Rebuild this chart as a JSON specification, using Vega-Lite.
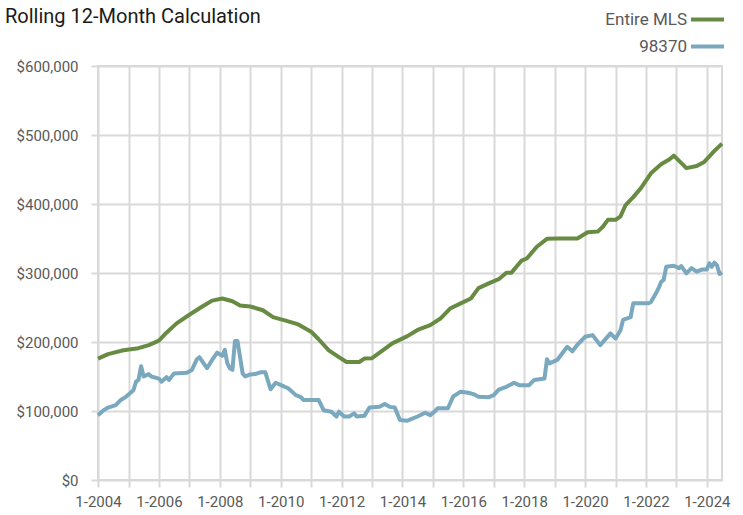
{
  "$schema": "https://vega.github.io/schema/vega-lite/v6.json",
  "autosize": "none",
  "width": 624,
  "height": 414,
  "padding": {"left": 98, "top": 66, "right": 21, "bottom": 35},
  "background": "white",
  "config": {
    "font": "Roboto, sans-serif",
    "view": {"stroke": "#d9d9d9", "strokeWidth": 2},
    "axis": {
      "grid": true,
      "gridColor": "#d9d9d9",
      "gridWidth": 2,
      "domain": false,
      "tickColor": "#d9d9d9",
      "tickWidth": 2,
      "tickSize": 7,
      "labelColor": "#595959",
      "labelFontSize": 15,
      "title": null
    }
  },
  "title": {
    "text": "Rolling 12-Month Calculation",
    "anchor": "start",
    "frame": "group",
    "dx": -93,
    "dy": 36,
    "fontSize": 20,
    "fontWeight": "normal",
    "color": "#1a1a1a",
    "offset": 10
  },
  "data": {
    "values": [
      {"date": "2004-01-01", "series": "Entire MLS", "value": 176000},
      {"date": "2004-05-01", "series": "Entire MLS", "value": 182500},
      {"date": "2004-11-01", "series": "Entire MLS", "value": 188000},
      {"date": "2005-05-01", "series": "Entire MLS", "value": 191000},
      {"date": "2005-09-01", "series": "Entire MLS", "value": 195500},
      {"date": "2006-01-01", "series": "Entire MLS", "value": 202000},
      {"date": "2006-04-01", "series": "Entire MLS", "value": 213500},
      {"date": "2006-08-01", "series": "Entire MLS", "value": 227000},
      {"date": "2007-01-01", "series": "Entire MLS", "value": 239500},
      {"date": "2007-06-01", "series": "Entire MLS", "value": 251000},
      {"date": "2007-10-01", "series": "Entire MLS", "value": 260000},
      {"date": "2008-02-01", "series": "Entire MLS", "value": 263000},
      {"date": "2008-06-01", "series": "Entire MLS", "value": 259000},
      {"date": "2008-09-01", "series": "Entire MLS", "value": 253000},
      {"date": "2009-01-01", "series": "Entire MLS", "value": 251500},
      {"date": "2009-06-01", "series": "Entire MLS", "value": 246000},
      {"date": "2009-10-01", "series": "Entire MLS", "value": 236000},
      {"date": "2010-03-01", "series": "Entire MLS", "value": 231000},
      {"date": "2010-08-01", "series": "Entire MLS", "value": 225500},
      {"date": "2011-01-01", "series": "Entire MLS", "value": 215000},
      {"date": "2011-04-01", "series": "Entire MLS", "value": 204000},
      {"date": "2011-08-01", "series": "Entire MLS", "value": 188000},
      {"date": "2011-12-01", "series": "Entire MLS", "value": 178000},
      {"date": "2012-03-01", "series": "Entire MLS", "value": 171000},
      {"date": "2012-08-01", "series": "Entire MLS", "value": 171000},
      {"date": "2012-10-01", "series": "Entire MLS", "value": 176000},
      {"date": "2013-01-01", "series": "Entire MLS", "value": 176500},
      {"date": "2013-05-01", "series": "Entire MLS", "value": 187000},
      {"date": "2013-09-01", "series": "Entire MLS", "value": 198000},
      {"date": "2014-03-01", "series": "Entire MLS", "value": 208500},
      {"date": "2014-07-01", "series": "Entire MLS", "value": 217500},
      {"date": "2014-12-01", "series": "Entire MLS", "value": 224500},
      {"date": "2015-04-01", "series": "Entire MLS", "value": 234000},
      {"date": "2015-08-01", "series": "Entire MLS", "value": 249000},
      {"date": "2015-12-01", "series": "Entire MLS", "value": 256000},
      {"date": "2016-04-01", "series": "Entire MLS", "value": 263000},
      {"date": "2016-07-01", "series": "Entire MLS", "value": 278000},
      {"date": "2016-11-01", "series": "Entire MLS", "value": 285000},
      {"date": "2017-03-01", "series": "Entire MLS", "value": 291000},
      {"date": "2017-06-01", "series": "Entire MLS", "value": 300500},
      {"date": "2017-08-01", "series": "Entire MLS", "value": 300500},
      {"date": "2017-12-01", "series": "Entire MLS", "value": 318000},
      {"date": "2018-02-01", "series": "Entire MLS", "value": 321000},
      {"date": "2018-06-01", "series": "Entire MLS", "value": 338000},
      {"date": "2018-10-01", "series": "Entire MLS", "value": 349500},
      {"date": "2019-02-01", "series": "Entire MLS", "value": 350000},
      {"date": "2019-10-01", "series": "Entire MLS", "value": 350000},
      {"date": "2020-02-01", "series": "Entire MLS", "value": 359000},
      {"date": "2020-06-01", "series": "Entire MLS", "value": 360000},
      {"date": "2020-08-01", "series": "Entire MLS", "value": 367000},
      {"date": "2020-10-01", "series": "Entire MLS", "value": 377000},
      {"date": "2021-01-01", "series": "Entire MLS", "value": 377000},
      {"date": "2021-03-01", "series": "Entire MLS", "value": 382000},
      {"date": "2021-05-01", "series": "Entire MLS", "value": 398500},
      {"date": "2021-08-01", "series": "Entire MLS", "value": 410000},
      {"date": "2021-11-01", "series": "Entire MLS", "value": 423000},
      {"date": "2022-03-01", "series": "Entire MLS", "value": 444500},
      {"date": "2022-07-01", "series": "Entire MLS", "value": 457500},
      {"date": "2022-10-01", "series": "Entire MLS", "value": 464000},
      {"date": "2022-12-01", "series": "Entire MLS", "value": 470000},
      {"date": "2023-05-01", "series": "Entire MLS", "value": 452000},
      {"date": "2023-09-01", "series": "Entire MLS", "value": 455000},
      {"date": "2023-12-01", "series": "Entire MLS", "value": 461000},
      {"date": "2024-04-01", "series": "Entire MLS", "value": 477000},
      {"date": "2024-07-01", "series": "Entire MLS", "value": 487500},

      {"date": "2004-01-01", "series": "98370", "value": 94000},
      {"date": "2004-03-01", "series": "98370", "value": 100500},
      {"date": "2004-05-01", "series": "98370", "value": 105000},
      {"date": "2004-08-01", "series": "98370", "value": 108500},
      {"date": "2004-10-01", "series": "98370", "value": 116000},
      {"date": "2004-12-01", "series": "98370", "value": 120500},
      {"date": "2005-03-01", "series": "98370", "value": 130000},
      {"date": "2005-04-01", "series": "98370", "value": 142500},
      {"date": "2005-05-01", "series": "98370", "value": 145000},
      {"date": "2005-06-01", "series": "98370", "value": 165000},
      {"date": "2005-07-01", "series": "98370", "value": 150000},
      {"date": "2005-09-01", "series": "98370", "value": 153500},
      {"date": "2005-10-01", "series": "98370", "value": 150000},
      {"date": "2006-01-01", "series": "98370", "value": 147000},
      {"date": "2006-02-01", "series": "98370", "value": 142500},
      {"date": "2006-04-01", "series": "98370", "value": 149000},
      {"date": "2006-05-01", "series": "98370", "value": 145000},
      {"date": "2006-07-01", "series": "98370", "value": 154500},
      {"date": "2006-12-01", "series": "98370", "value": 155500},
      {"date": "2007-02-01", "series": "98370", "value": 159500},
      {"date": "2007-04-01", "series": "98370", "value": 175000},
      {"date": "2007-05-01", "series": "98370", "value": 178000},
      {"date": "2007-08-01", "series": "98370", "value": 162000},
      {"date": "2007-10-01", "series": "98370", "value": 174000},
      {"date": "2007-12-01", "series": "98370", "value": 184500},
      {"date": "2008-02-01", "series": "98370", "value": 180000},
      {"date": "2008-03-01", "series": "98370", "value": 188500},
      {"date": "2008-04-01", "series": "98370", "value": 169000},
      {"date": "2008-05-01", "series": "98370", "value": 162000},
      {"date": "2008-06-01", "series": "98370", "value": 159500},
      {"date": "2008-07-01", "series": "98370", "value": 201500},
      {"date": "2008-08-01", "series": "98370", "value": 201500},
      {"date": "2008-10-01", "series": "98370", "value": 154500},
      {"date": "2008-11-01", "series": "98370", "value": 150000},
      {"date": "2009-01-01", "series": "98370", "value": 153000},
      {"date": "2009-03-01", "series": "98370", "value": 153500},
      {"date": "2009-05-01", "series": "98370", "value": 156000},
      {"date": "2009-07-01", "series": "98370", "value": 156000},
      {"date": "2009-09-01", "series": "98370", "value": 131500},
      {"date": "2009-11-01", "series": "98370", "value": 141000},
      {"date": "2010-02-01", "series": "98370", "value": 136000},
      {"date": "2010-04-01", "series": "98370", "value": 133000},
      {"date": "2010-07-01", "series": "98370", "value": 123000},
      {"date": "2010-09-01", "series": "98370", "value": 120000},
      {"date": "2010-10-01", "series": "98370", "value": 116000},
      {"date": "2011-04-01", "series": "98370", "value": 116000},
      {"date": "2011-06-01", "series": "98370", "value": 101000},
      {"date": "2011-09-01", "series": "98370", "value": 99000},
      {"date": "2011-11-01", "series": "98370", "value": 92000},
      {"date": "2011-12-01", "series": "98370", "value": 99000},
      {"date": "2012-02-01", "series": "98370", "value": 92000},
      {"date": "2012-04-01", "series": "98370", "value": 92000},
      {"date": "2012-06-01", "series": "98370", "value": 96500},
      {"date": "2012-07-01", "series": "98370", "value": 92000},
      {"date": "2012-10-01", "series": "98370", "value": 93000},
      {"date": "2012-12-01", "series": "98370", "value": 105000},
      {"date": "2013-04-01", "series": "98370", "value": 106000},
      {"date": "2013-06-01", "series": "98370", "value": 110000},
      {"date": "2013-08-01", "series": "98370", "value": 106000},
      {"date": "2013-10-01", "series": "98370", "value": 105000},
      {"date": "2013-12-01", "series": "98370", "value": 87000},
      {"date": "2014-03-01", "series": "98370", "value": 86000},
      {"date": "2014-07-01", "series": "98370", "value": 92000},
      {"date": "2014-10-01", "series": "98370", "value": 97500},
      {"date": "2014-12-01", "series": "98370", "value": 94000},
      {"date": "2015-02-01", "series": "98370", "value": 100500},
      {"date": "2015-03-01", "series": "98370", "value": 104000},
      {"date": "2015-07-01", "series": "98370", "value": 104000},
      {"date": "2015-09-01", "series": "98370", "value": 121000},
      {"date": "2015-12-01", "series": "98370", "value": 128000},
      {"date": "2016-03-01", "series": "98370", "value": 126500},
      {"date": "2016-05-01", "series": "98370", "value": 124500},
      {"date": "2016-07-01", "series": "98370", "value": 120500},
      {"date": "2016-11-01", "series": "98370", "value": 120000},
      {"date": "2017-01-01", "series": "98370", "value": 123000},
      {"date": "2017-03-01", "series": "98370", "value": 131000},
      {"date": "2017-06-01", "series": "98370", "value": 135000},
      {"date": "2017-09-01", "series": "98370", "value": 141000},
      {"date": "2017-11-01", "series": "98370", "value": 137500},
      {"date": "2018-03-01", "series": "98370", "value": 137500},
      {"date": "2018-05-01", "series": "98370", "value": 145000},
      {"date": "2018-09-01", "series": "98370", "value": 147000},
      {"date": "2018-10-01", "series": "98370", "value": 175000},
      {"date": "2018-11-01", "series": "98370", "value": 169000},
      {"date": "2019-02-01", "series": "98370", "value": 174000},
      {"date": "2019-06-01", "series": "98370", "value": 193000},
      {"date": "2019-08-01", "series": "98370", "value": 186500},
      {"date": "2019-10-01", "series": "98370", "value": 196000},
      {"date": "2020-01-01", "series": "98370", "value": 207500},
      {"date": "2020-04-01", "series": "98370", "value": 210000},
      {"date": "2020-07-01", "series": "98370", "value": 195500},
      {"date": "2020-11-01", "series": "98370", "value": 212500},
      {"date": "2021-01-01", "series": "98370", "value": 205000},
      {"date": "2021-03-01", "series": "98370", "value": 217000},
      {"date": "2021-04-01", "series": "98370", "value": 232000},
      {"date": "2021-07-01", "series": "98370", "value": 236000},
      {"date": "2021-08-01", "series": "98370", "value": 256000},
      {"date": "2022-02-01", "series": "98370", "value": 256000},
      {"date": "2022-03-01", "series": "98370", "value": 258000},
      {"date": "2022-05-01", "series": "98370", "value": 270500},
      {"date": "2022-06-01", "series": "98370", "value": 278000},
      {"date": "2022-07-01", "series": "98370", "value": 287000},
      {"date": "2022-08-01", "series": "98370", "value": 290000},
      {"date": "2022-09-01", "series": "98370", "value": 309000},
      {"date": "2022-12-01", "series": "98370", "value": 310500},
      {"date": "2023-02-01", "series": "98370", "value": 307000},
      {"date": "2023-03-01", "series": "98370", "value": 310000},
      {"date": "2023-05-01", "series": "98370", "value": 299500},
      {"date": "2023-07-01", "series": "98370", "value": 307000},
      {"date": "2023-09-01", "series": "98370", "value": 302000},
      {"date": "2023-11-01", "series": "98370", "value": 305000},
      {"date": "2024-01-01", "series": "98370", "value": 305000},
      {"date": "2024-02-01", "series": "98370", "value": 314000},
      {"date": "2024-03-01", "series": "98370", "value": 309000},
      {"date": "2024-04-01", "series": "98370", "value": 315000},
      {"date": "2024-05-01", "series": "98370", "value": 311500},
      {"date": "2024-06-01", "series": "98370", "value": 298500},
      {"date": "2024-07-01", "series": "98370", "value": 301000}
    ]
  },
  "mark": {"type": "line", "strokeWidth": 4, "strokeJoin": "round", "strokeCap": "butt"},
  "encoding": {
    "x": {
      "field": "date",
      "type": "temporal",
      "scale": {
        "type": "utc",
        "nice": false,
        "domain": [
          {"year": 2004, "month": 1, "date": 1, "utc": true},
          {"year": 2024, "month": 7, "date": 1, "utc": true}
        ]
      },
      "axis": {
        "values": [
          {"year": 2004, "month": 1, "date": 1, "utc": true},
          {"year": 2005, "month": 1, "date": 1, "utc": true},
          {"year": 2006, "month": 1, "date": 1, "utc": true},
          {"year": 2007, "month": 1, "date": 1, "utc": true},
          {"year": 2008, "month": 1, "date": 1, "utc": true},
          {"year": 2009, "month": 1, "date": 1, "utc": true},
          {"year": 2010, "month": 1, "date": 1, "utc": true},
          {"year": 2011, "month": 1, "date": 1, "utc": true},
          {"year": 2012, "month": 1, "date": 1, "utc": true},
          {"year": 2013, "month": 1, "date": 1, "utc": true},
          {"year": 2014, "month": 1, "date": 1, "utc": true},
          {"year": 2015, "month": 1, "date": 1, "utc": true},
          {"year": 2016, "month": 1, "date": 1, "utc": true},
          {"year": 2017, "month": 1, "date": 1, "utc": true},
          {"year": 2018, "month": 1, "date": 1, "utc": true},
          {"year": 2019, "month": 1, "date": 1, "utc": true},
          {"year": 2020, "month": 1, "date": 1, "utc": true},
          {"year": 2021, "month": 1, "date": 1, "utc": true},
          {"year": 2022, "month": 1, "date": 1, "utc": true},
          {"year": 2023, "month": 1, "date": 1, "utc": true},
          {"year": 2024, "month": 1, "date": 1, "utc": true}
        ],
        "labelExpr": "utcyear(datum.value) % 2 == 0 ? '1-' + utcyear(datum.value) : ''",
        "labelOverlap": false,
        "labelFlush": false,
        "labelPadding": 7
      }
    },
    "y": {
      "field": "value",
      "type": "quantitative",
      "scale": {"domain": [0, 600000], "nice": false},
      "axis": {
        "values": [0, 100000, 200000, 300000, 400000, 500000, 600000],
        "format": "$,.0f",
        "labelPadding": 13
      }
    },
    "color": {
      "field": "series",
      "type": "nominal",
      "scale": {"domain": ["Entire MLS", "98370"], "range": ["#688b43", "#7aa8bf"]},
      "legend": {
        "title": null,
        "orient": "none",
        "legendX": 591,
        "legendY": -65,
        "symbolType": "stroke",
        "symbolSize": 1089,
        "symbolStrokeWidth": 4,
        "labelAlign": "right",
        "labelOffset": -39,
        "labelFontSize": 17,
        "labelColor": "#595959",
        "rowPadding": -8,
        "labelLimit": 200
      }
    }
  }
}
